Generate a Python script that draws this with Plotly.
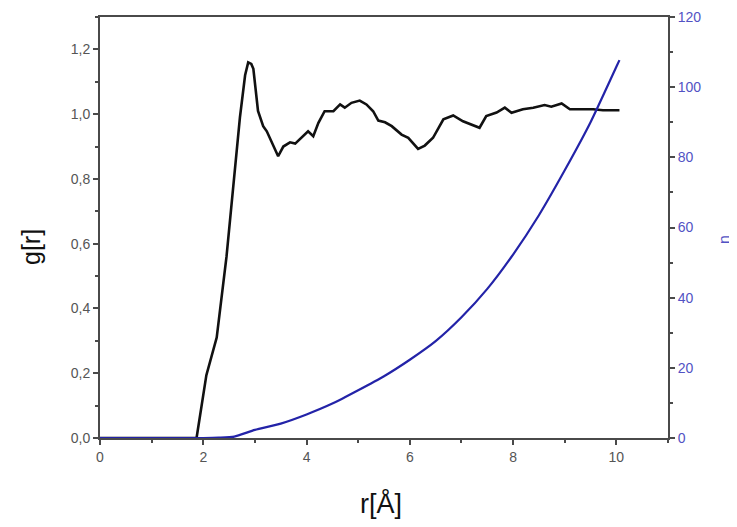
import plotly.graph_objects as go

# ---- data ----
r_g = [0, 1.0, 1.87, 2.06, 2.26, 2.45, 2.65, 2.71, 2.81, 2.87, 2.93, 2.97, 3.06, 3.16,
       3.23, 3.45, 3.55, 3.68, 3.78, 3.90, 4.03, 4.13, 4.23, 4.35, 4.52, 4.65, 4.74,
       4.87, 5.03, 5.16, 5.29, 5.39, 5.52, 5.65, 5.84, 5.97, 6.16, 6.29, 6.45, 6.65,
       6.84, 7.03, 7.35, 7.48, 7.68, 7.84, 7.97, 8.19, 8.39, 8.61, 8.74, 8.94, 9.10,
       9.29, 9.55, 9.74, 10.06]
g_r = [0, 0, 0, 0.194, 0.31, 0.56, 0.91, 0.99, 1.12, 1.16, 1.155, 1.14, 1.01, 0.963,
       0.947, 0.87, 0.90, 0.913, 0.909, 0.927, 0.947, 0.932, 0.973, 1.009, 1.009, 1.03,
       1.02, 1.035, 1.042, 1.03, 1.009, 0.98, 0.975, 0.963, 0.937, 0.927, 0.893, 0.903,
       0.927, 0.984, 0.996, 0.978, 0.958, 0.994, 1.005, 1.02, 1.004, 1.015, 1.02, 1.028,
       1.023, 1.033, 1.015, 1.015, 1.015, 1.012, 1.012]

r_n = [0, 1.0, 2.0, 2.3, 2.6, 3.0, 3.5, 4.0, 4.5, 5.0, 5.5, 6.0, 6.5, 7.0, 7.5, 8.0,
       8.5, 9.0, 9.5, 10.0, 10.06]
n_r = [0, 0, 0, 0.1, 0.4, 2.3, 4.1, 6.7, 9.8, 13.6, 17.6, 22.3, 27.6, 34.4, 42.5,
       52.3, 63.5, 76.3, 90.0, 105.8, 107.7]

x_ticks = [0, 2, 4, 6, 8, 10]
g_ticks = [0.0, 0.2, 0.4, 0.6, 0.8, 1.0, 1.2]
n_ticks = [0, 20, 40, 60, 80, 100, 120]

# ---- layout constants (page body has an 8px margin) ----
OFF = 8
W, H = 737 - OFF, 527 - OFF
ML, MR, MT, MB = 100 - OFF, 69, 17 - OFF, 89
PW, PH = W - ML - MR, H - MT - MB

AX = "#4a4a4a"
BLUE = "#2323a8"
TICKGREY = "#555555"
TICKBLUE = "#5252c4"

fig = go.Figure()
fig.add_trace(go.Scatter(x=r_g, y=g_r, mode="lines",
                         line=dict(color="#111111", width=2.6), yaxis="y"))
fig.add_trace(go.Scatter(x=r_n, y=n_r, mode="lines",
                         line=dict(color=BLUE, width=2.2, shape="spline", smoothing=0.6),
                         yaxis="y2"))

fig.update_layout(
    width=W, height=H,
    margin=dict(l=ML, r=MR, t=MT, b=MB, autoexpand=False),
    paper_bgcolor="white", plot_bgcolor="white",
    showlegend=False,
    separators=",.",
    font=dict(family="Liberation Sans, Arial, sans-serif"),
    xaxis=dict(range=[0, 11], tickvals=x_ticks, ticks="outside", ticklen=5, tickwidth=2,
               tickcolor=AX, showline=True, linecolor=AX, linewidth=2, mirror=True,
               showgrid=False, zeroline=False,
               tickfont=dict(size=14, color=TICKGREY),
               minor=dict(dtick=1, ticks="outside", ticklen=3, tickwidth=1.5, tickcolor=AX,
                          showgrid=False)),
    yaxis=dict(range=[0, 1.3], tickvals=g_ticks, tickformat=".1f", ticks="outside",
               ticklen=5, tickwidth=2, tickcolor=AX, showline=True, linecolor=AX,
               linewidth=2, showgrid=False, zeroline=False,
               tickfont=dict(size=14, color=TICKGREY),
               minor=dict(dtick=0.1, ticks="outside", ticklen=3, tickwidth=1.5,
                          tickcolor=AX, showgrid=False)),
    yaxis2=dict(range=[0, 120], tickvals=n_ticks, overlaying="y", side="right",
                ticks="outside", ticklen=5, tickwidth=2, tickcolor=AX, showline=True,
                linecolor=AX, linewidth=2, showgrid=False, zeroline=False,
                tickfont=dict(size=14, color=TICKBLUE),
                minor=dict(dtick=10, ticks="outside", ticklen=3, tickwidth=1.5,
                           tickcolor=AX, showgrid=False)),
)

def px_x(px):
    return (px - OFF - ML) / PW

def px_y(py):
    return (H - MB - (py - OFF)) / PH

fig.add_annotation(text="g[r]", x=px_x(31), y=px_y(247), xref="paper", yref="paper",
                   showarrow=False, textangle=-90, xanchor="center", yanchor="middle",
                   font=dict(size=25, color="#111111"))
fig.add_annotation(text="r[Å]", x=px_x(381), y=px_y(503), xref="paper", yref="paper",
                   showarrow=False, xanchor="center", yanchor="middle",
                   font=dict(size=27, color="#111111"))
fig.add_annotation(text="n", x=px_x(724), y=px_y(240), xref="paper", yref="paper",
                   showarrow=False, textangle=-90, xanchor="center", yanchor="middle",
                   font=dict(size=16, color=TICKBLUE))

fig.write_html("out.html")
